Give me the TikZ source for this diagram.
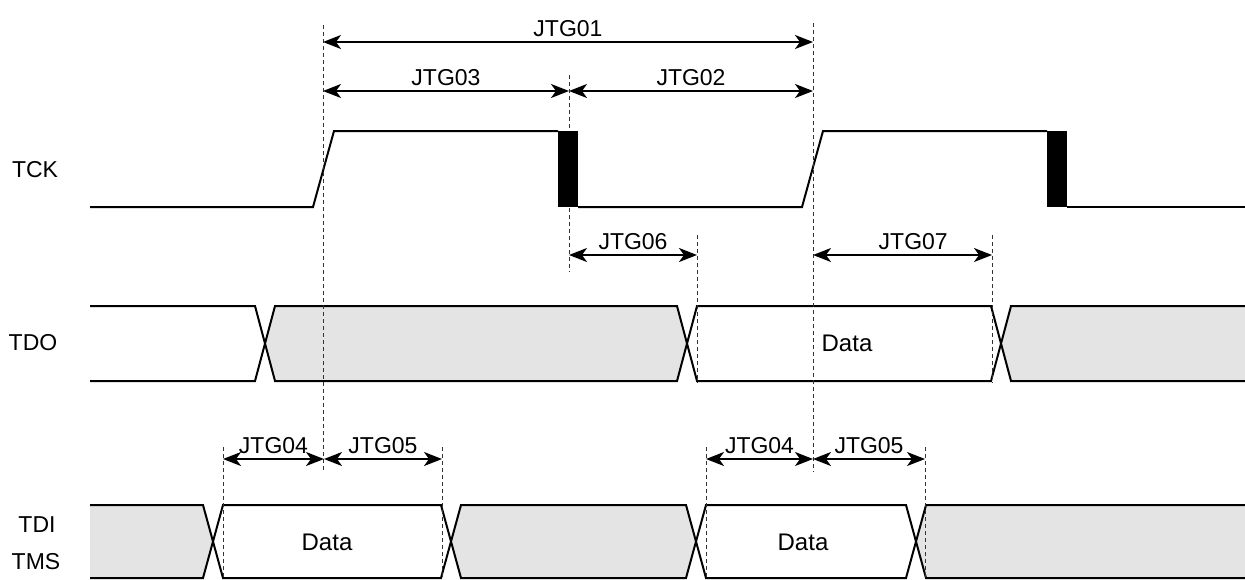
\documentclass[tikz,border=0pt]{standalone}
\usepackage{fontspec}
\setmainfont{Liberation Sans}
\usetikzlibrary{arrows.meta}
\definecolor{busgray}{RGB}{228,228,228}

% hexagon of one bus value: #1 left crossing, #2 right crossing, #3 top, #4 bottom
\newcommand{\busseg}[5]{%
  \path[#5] (#1,{(#3+#4)/2}) -- ({#1+10},#3) -- ({#2-10},#3) -- (#2,{(#3+#4)/2})
    -- ({#2-10},#4) -- ({#1+10},#4) -- cycle;}

\begin{document}
\begin{tikzpicture}[
  x=0.5pt, y=-0.5pt,
  wave/.style={line width=1pt, line join=miter},
  bus/.style={wave, draw, fill=busgray},
  dim/.style={{Stealth[length=9pt, width=7pt, inset=2.5pt]}-{Stealth[length=9pt, width=7pt, inset=2.5pt]}, line width=0.9pt},
  guide/.style={black!80, line width=0.4pt, dash pattern=on 2pt off 1.5pt},
  lbl/.style={font=\fontsize{11.5}{13}\selectfont, inner sep=2pt},
  sig/.style={font=\fontsize{11.5}{13}\selectfont},
  dat/.style={font=\fontsize{12}{14}\selectfont}
]
  \useasboundingbox (0,0) rectangle (1245,579);

  % --- Signal names ---
  \node[sig] (tck) at (35,170) {TCK};
  \node[sig] (tdo) at (33,343) {TDO};
  \node[sig] (tdi) at (37,525) {TDI};
  \node[sig] (tms) at (36,562) {TMS};

  % --- TCK ---
  \draw[wave] (90,207) -- (313,207) -- (334,131) -- (558,131);
  \draw[wave] (578,207) -- (802,207) -- (823,131) -- (1047,131);
  \draw[wave] (1067,207) -- (1245,207);

  % --- TDO ---
  \draw[wave] (90,306) -- (255,306) -- (265,343.5) -- (255,381) -- (90,381);
  \busseg{265}{687}{306}{381}{bus}
  \busseg{687}{1001}{306}{381}{wave, draw}
  \fill[busgray] (1001,343.5) -- (1011,306) -- (1245,306) -- (1245,381) -- (1011,381) -- cycle;
  \draw[wave] (1245,306) -- (1011,306) -- (1001,343.5) -- (1011,381) -- (1245,381);
  \node[dat] (tdodata) at (847,343) {Data};

  % --- TDI / TMS ---
  \fill[busgray] (90,505) -- (203,505) -- (213,541.5) -- (203,578) -- (90,578) -- cycle;
  \draw[wave] (90,505) -- (203,505) -- (213,541.5) -- (203,578) -- (90,578);
  \busseg{213}{451}{505}{578}{wave, draw}
  \busseg{451}{696}{505}{578}{bus}
  \busseg{696}{916}{505}{578}{wave, draw}
  \fill[busgray] (916,541.5) -- (926,505) -- (1245,505) -- (1245,578) -- (926,578) -- cycle;
  \draw[wave] (1245,505) -- (926,505) -- (916,541.5) -- (926,578) -- (1245,578);
  \node[dat] (tdidata1) at (327,542) {Data};
  \node[dat] (tdidata2) at (803,542) {Data};

  % --- Guide lines ---
  \foreach \gx/\gt/\gb [count=\i] in {323/25/472, 569/75/272, 813/23/472, 697/235/383,
      992/235/383, 223/447/579, 442/447/579, 706/447/579, 925/447/579} {
    \coordinate (g\i t) at (\gx,\gt);
    \coordinate (g\i b) at (\gx,\gb);
    \draw[guide] (g\i t) -- (g\i b);
  }

  % falling edges of TCK, over the guides
  \fill (558,131) rectangle (578,207);
  \fill (1047,131) rectangle (1067,207);

  % --- Timing parameters ---
  \coordinate (j01a) at (323,42);  \coordinate (j01b) at (813,42);
  \coordinate (j03a) at (323,91);  \coordinate (j03b) at (569,91);
  \coordinate (j02b) at (813,91);
  \coordinate (j06a) at (569,255); \coordinate (j06b) at (697,255);
  \coordinate (j07a) at (813,255); \coordinate (j07b) at (992,255);
  \coordinate (j04a) at (223,459); \coordinate (j04b) at (324,459);
  \coordinate (j05b) at (442,459);
  \coordinate (j14a) at (706,459); \coordinate (j14b) at (813,459);
  \coordinate (j15b) at (925,459);

  \draw[dim] (j01a) -- node[lbl, above] (l01) {JTG01} (j01b);
  \draw[dim] (j03a) -- node[lbl, above] (l03) {JTG03} (j03b);
  \draw[dim] (j03b) -- node[lbl, above] (l02) {JTG02} (j02b);
  \draw[dim] (j06a) -- node[lbl, above] (l06) {JTG06} (j06b);
  \draw[dim] (j07a) -- node[lbl, above, pos=0.56] (l07) {JTG07} (j07b);
  \draw[dim] (j04a) -- node[lbl, above] (l04) {JTG04} (j04b);
  \draw[dim] (j04b) -- node[lbl, above] (l05) {JTG05} (j05b);
  \draw[dim] (j14a) -- node[lbl, above] (l14) {JTG04} (j14b);
  \draw[dim] (j14b) -- node[lbl, above] (l15) {JTG05} (j15b);
\end{tikzpicture}
\end{document}
